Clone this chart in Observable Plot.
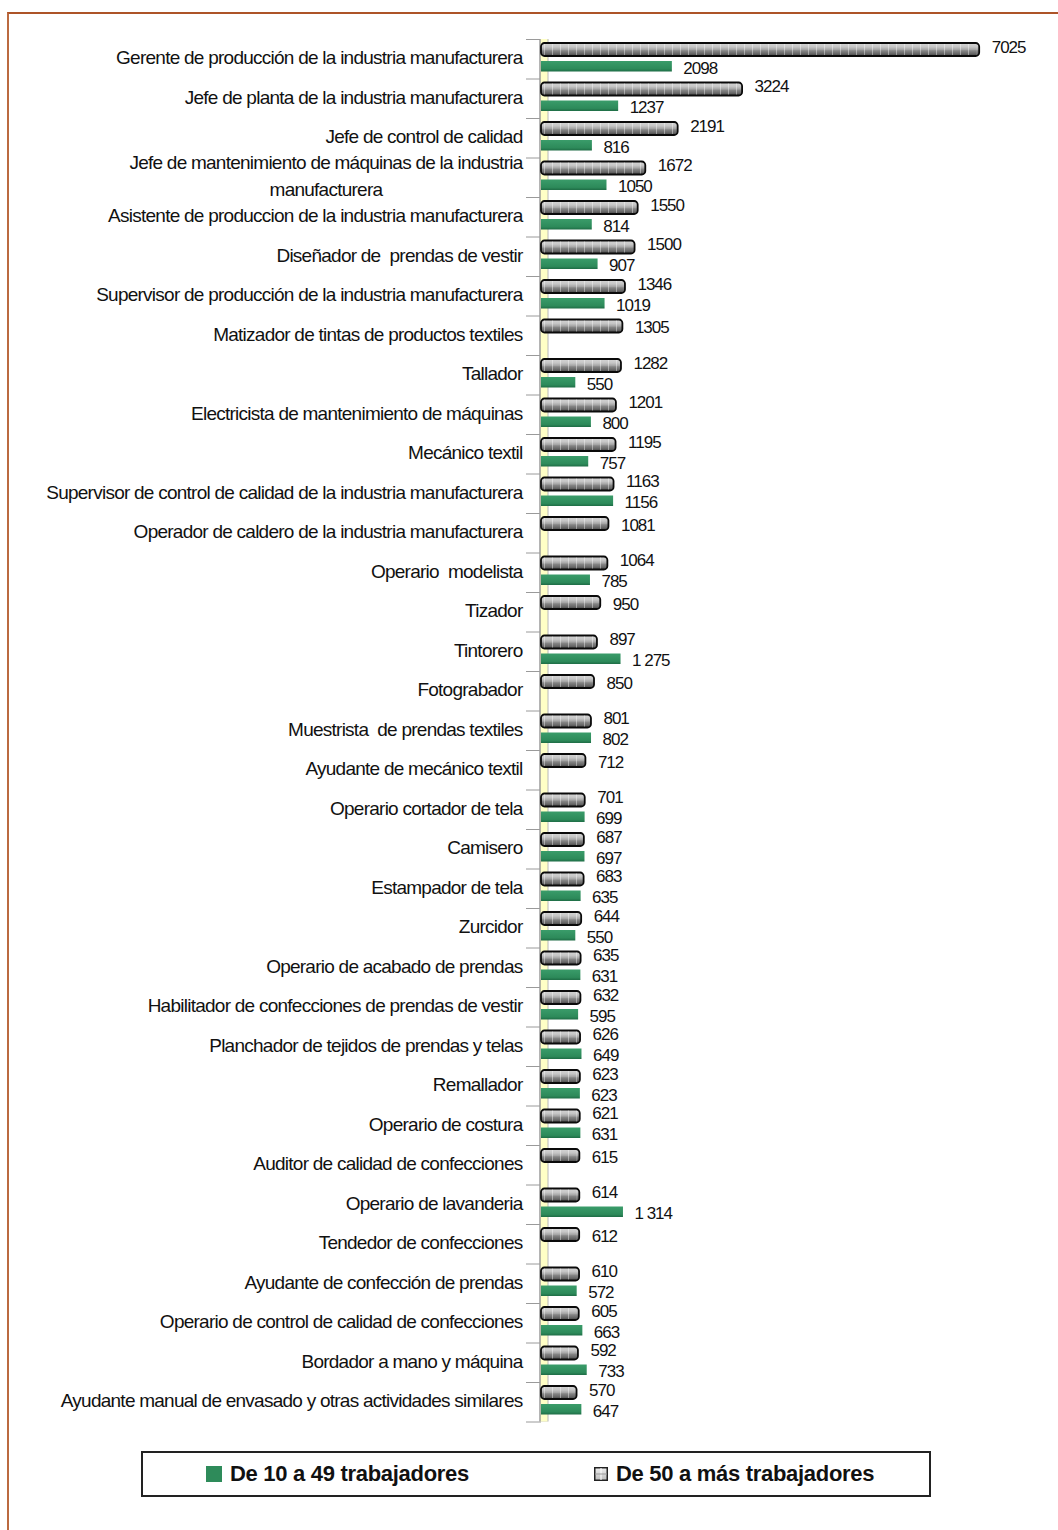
<!DOCTYPE html>
<html>
<head>
<meta charset="utf-8">
<script src="https://cdn.jsdelivr.net/npm/d3@7"></script>
<script src="https://cdn.jsdelivr.net/npm/@observablehq/plot@0.6"></script>
<style>
  html, body { margin: 0; padding: 0; background: #fff; }
  #page { position: relative; width: 1058px; height: 1530px; overflow: hidden; font-family: 'Liberation Sans', Arial, sans-serif; }
  #frame { position: absolute; left: 7px; top: 12px; width: 1060px; height: 1530px; border-top: 2px solid #ad5428; border-left: 2px solid #bb6a40; }
  #chart { position: absolute; left: 0; top: 0; }
  #chart svg g[aria-label="y-axis tick label"] text { letter-spacing: -0.75px; }
  #chart svg g[aria-label="text"] text { letter-spacing: -1px; }
  #legend { position: absolute; left: 141px; top: 1451px; width: 786px; height: 42px; border: 2px solid #222; background: #fff; }
  .item { position: absolute; top: 0; height: 42px; display: flex; align-items: center; font-weight: bold; font-size: 22px; letter-spacing: -0.3px; color: #111; }
  .sw { display: inline-block; margin-right: 8px; }
</style>
</head>
<body>
<div id="page">
  <div id="frame"></div>
  <div id="chart"></div>
  <div id="legend"></div>
</div>
<script>
const categories = [
  "Gerente de producción de la industria manufacturera",
  "Jefe de planta de la industria manufacturera",
  "Jefe de control de calidad",
  "Jefe de mantenimiento de máquinas de la industria\nmanufacturera",
  "Asistente de produccion de la industria manufacturera",
  "Diseñador de  prendas de vestir",
  "Supervisor de producción de la industria manufacturera",
  "Matizador de tintas de productos textiles",
  "Tallador",
  "Electricista de mantenimiento de máquinas",
  "Mecánico textil",
  "Supervisor de control de calidad de la industria manufacturera",
  "Operador de caldero de la industria manufacturera",
  "Operario  modelista",
  "Tizador",
  "Tintorero",
  "Fotograbador",
  "Muestrista  de prendas textiles",
  "Ayudante de mecánico textil",
  "Operario cortador de tela",
  "Camisero",
  "Estampador de tela",
  "Zurcidor",
  "Operario de acabado de prendas",
  "Habilitador de confecciones de prendas de vestir",
  "Planchador de tejidos de prendas y telas",
  "Remallador",
  "Operario de costura",
  "Auditor de calidad de confecciones",
  "Operario de lavanderia",
  "Tendedor de confecciones",
  "Ayudante de confección de prendas",
  "Operario de control de calidad de confecciones",
  "Bordador a mano y máquina",
  "Ayudante manual de envasado y otras actividades similares"
];

// De 50 a más trabajadores
const values50 = [7025, 3224, 2191, 1672, 1550, 1500, 1346, 1305, 1282, 1201, 1195, 1163, 1081, 1064, 950, 897, 850, 801, 712, 701, 687, 683, 644, 635, 632, 626, 623, 621, 615, 614, 612, 610, 605, 592, 570];

// De 10 a 49 trabajadores (null = sin dato)
const values10 = [2098, 1237, 816, 1050, 814, 907, 1019, null, 550, 800, 757, 1156, null, 785, null, 1275, null, 802, null, 699, 697, 635, 550, 631, 595, 649, 623, 631, null, 1314, null, 572, 663, 733, 647];

// labels written with a space as thousands separator
const spacedLabels = ["Tintorero", "Operario de lavanderia"];

const seriesNames = ["De 10 a 49 trabajadores", "De 50 a más trabajadores"];

const data = categories.map((cat, i) => ({cat, v50: values50[i], v10: values10[i]}));
const withBoth = data.filter(d => d.v10 != null);
const onlyBig = data.filter(d => d.v10 == null);

const fmt = (v, spaced) => spaced && v >= 1000 ? `${Math.floor(v / 1000)} ${String(v % 1000).padStart(3, "0")}` : String(v);

const W = 1058, H = 1440, mt = 39, mb = 18.5, ml = 541, mr = 18;
const bw = (H - mt - mb) / categories.length;

const plot = Plot.plot({
  width: W, height: H,
  marginLeft: ml, marginRight: mr, marginTop: mt, marginBottom: mb,
  style: {fontFamily: "'Liberation Sans', Arial, sans-serif", fontSize: "19px", color: "#111", background: "transparent", overflow: "visible"},
  x: {domain: [0, 8000], axis: null},
  y: {domain: categories, padding: 0, round: false},
  marks: [
    Plot.axisY({tickSize: 15, tickFormat: () => "", dy: bw / 2, stroke: "#9a9a9a", label: null}),
    Plot.axisY([categories[0]], {tickSize: 15, tickFormat: () => "", dy: -bw / 2, stroke: "#9a9a9a", label: null}),
    Plot.ruleX([0], {stroke: "#b8b8b8", strokeWidth: 9, dx: 2.5}),
    Plot.ruleX([0], {stroke: "#ffffc6", strokeWidth: 7, dx: 2.5}),
    Plot.ruleX([0], {stroke: "#8c8c8c", strokeWidth: 1, dx: -1.5}),
    Plot.barX(data, {x: "v50", y: "cat", fill: "url(#g50)", stroke: "#0a0a0a", strokeWidth: 1.8, rx: 3.5, insetTop: 4, insetBottom: bw - 17}),
    Plot.barX(data, {x: "v50", y: "cat", fill: "url(#grid50)", insetTop: 5, insetBottom: bw - 16, insetLeft: 2, insetRight: 3}),
    Plot.barX(withBoth, {x: "v10", y: "cat", fill: "url(#g10)", insetTop: 22, insetBottom: bw - 32.5}),
    Plot.text(withBoth, {x: "v50", y: "cat", text: d => fmt(d.v50, false), dx: 12, dy: -12, textAnchor: "start", fontSize: 17, fill: "#111"}),
    Plot.text(onlyBig, {x: "v50", y: "cat", text: d => fmt(d.v50, false), dx: 12, dy: -8, textAnchor: "start", fontSize: 17, fill: "#111"}),
    Plot.text(withBoth, {x: "v10", y: "cat", text: d => fmt(d.v10, spacedLabels.includes(d.cat)), dx: 11, dy: 9, textAnchor: "start", fontSize: 17, fill: "#111"}),
    Plot.axisY({tickSize: 0, tickPadding: 19, fontSize: 19, lineHeight: 1.42, dy: -3.5, color: "#111", label: null})
  ]
});

d3.select(plot).insert("defs", ":first-child").html(`
  <linearGradient id="g50" x1="0" y1="0" x2="0" y2="1">
    <stop offset="0" stop-color="#d6d6d6"/>
    <stop offset="0.3" stop-color="#c6c6c6"/>
    <stop offset="0.5" stop-color="#a6a6a6"/>
    <stop offset="0.6" stop-color="#858585"/>
    <stop offset="0.8" stop-color="#6a6a6a"/>
    <stop offset="1" stop-color="#444"/>
  </linearGradient>
  <pattern id="grid50" patternUnits="userSpaceOnUse" width="8" height="4">
    <rect x="0" y="0" width="1" height="4" fill="#fff" fill-opacity="0.4"/>
  </pattern>
  <linearGradient id="g10" x1="0" y1="0" x2="0" y2="1">
    <stop offset="0" stop-color="#3a9c6a"/>
    <stop offset="0.75" stop-color="#2d8a5a"/>
    <stop offset="1" stop-color="#1e6c45"/>
  </linearGradient>
`);

document.getElementById("chart").append(plot);

// center the second line of wrapped category labels under the first
d3.select(plot).selectAll("text").each(function () {
  const ts = this.querySelectorAll("tspan");
  if (ts.length === 2) {
    const L1 = ts[0].getComputedTextLength();
    const L2 = ts[1].getComputedTextLength();
    const x0 = +(ts[0].getAttribute("x") || 0);
    ts[1].setAttribute("x", x0 - L1 / 2 + L2 / 2);
  }
});

// legend
const legend = document.getElementById("legend");
legend.innerHTML = `
  <div class="item" style="left:63px"><span class="sw" style="width:16px;height:16px;background:#2e8b5a"></span>${seriesNames[0]}</div>
  <div class="item" style="left:451px"><svg class="sw" width="14" height="14" style="margin-right:8px"><defs><linearGradient id="lg50" x1="0" y1="0" x2="0" y2="1"><stop offset="0" stop-color="#eee"/><stop offset="1" stop-color="#bbb"/></linearGradient></defs><rect x="0.75" y="0.75" width="12.5" height="12.5" fill="url(#lg50)" stroke="#222" stroke-width="1.5"/><line x1="7" y1="1" x2="7" y2="13" stroke="#fff" stroke-width="1"/><line x1="1" y1="7" x2="13" y2="7" stroke="#999" stroke-width="1"/></svg>${seriesNames[1]}</div>
`;
</script>
</body>
</html>
